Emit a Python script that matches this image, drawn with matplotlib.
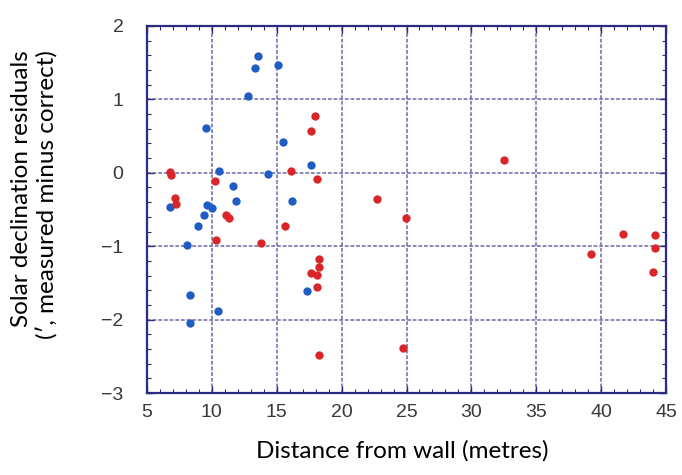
import numpy as np
import matplotlib
matplotlib.use("Agg")
import matplotlib.pyplot as plt
from matplotlib.ticker import MultipleLocator

# points bleus
blue_x = [13.54, 13.31, 15.13, 12.75, 9.54, 15.52, 17.64, 10.54, 14.34, 11.64, 11.87,
          16.18, 6.75, 9.64, 10.0, 9.36, 8.9, 8.1, 17.31, 8.34, 10.46, 8.34]
blue_y = [1.59, 1.43, 1.47, 1.05, 0.61, 0.42, 0.11, 0.03, -0.01, -0.18, -0.38,
          -0.38, -0.47, -0.44, -0.48, -0.58, -0.72, -0.99, -1.61, -1.66, -1.88, -2.04]

# points rouges
red_x = [17.98, 17.64, 6.8, 6.83, 16.08, 18.08, 10.23, 7.13, 7.26, 11.1, 11.3, 15.6,
         10.34, 13.77, 22.72, 24.95, 18.28, 18.28, 17.64, 18.08, 18.08, 18.28, 24.75,
         32.52, 41.67, 44.13, 44.13, 39.23, 44.0]
red_y = [0.78, 0.57, 0.01, -0.03, 0.03, -0.09, -0.11, -0.34, -0.43, -0.58, -0.62, -0.72,
         -0.92, -0.96, -0.36, -0.61, -1.18, -1.29, -1.37, -1.39, -1.55, -2.48, -2.39,
         0.17, -0.84, -0.85, -1.02, -1.10, -1.35]

x_ticks = [5, 10, 15, 20, 25, 30, 35, 40, 45]
y_ticks = [-3, -2, -1, 0, 1, 2]

navy = "#2b2b80"

fig = plt.figure(figsize=(6.82, 4.75), dpi=100)
ax = fig.add_axes([147 / 682, 1 - 393 / 475, (666 - 147) / 682, (393 - 26) / 475])

ax.scatter(blue_x, blue_y, s=36, color="#1f5cc4", zorder=3, linewidths=0)
ax.scatter(red_x, red_y, s=36, color="#d9262b", zorder=3, linewidths=0)

ax.set_xlim(5, 45)
ax.set_ylim(-3, 2)
ax.set_xticks(x_ticks)
ax.set_yticks(y_ticks)
ax.xaxis.set_minor_locator(MultipleLocator(1))
ax.yaxis.set_minor_locator(MultipleLocator(0.2))

ax.grid(True, which="major", color="#6a6aa0", linestyle=(0, (2.5, 1.2)), linewidth=1.1)
ax.tick_params(which="both", direction="in", top=True, right=True, color=navy)
ax.tick_params(which="major", length=5, width=1)
ax.tick_params(which="minor", length=3, width=0.8)
ax.tick_params(axis="y", pad=17)
ax.tick_params(axis="x", pad=8)
for lab in ax.get_xticklabels() + ax.get_yticklabels():
    lab.set_fontfamily("Liberation Sans")
    lab.set_fontsize(14)
    lab.set_color("#383838")
for sp in ax.spines.values():
    sp.set_color(navy)
    sp.set_linewidth(1.6)

fig.text(402 / 682, 1 - 451 / 475, "Distance from wall (metres)", family="Lato",
         fontsize=17.5, ha="center", va="center", color="black")
fig.text(22 / 682, 1 - 50 / 475, "Solar declination residuals", family="Lato",
         fontsize=17.5, rotation=90, ha="center", va="top", color="black")
fig.text(47 / 682, 1 - 50 / 475, "(\u2032, measured minus correct)", family="Lato",
         fontsize=17.5, rotation=90, ha="center", va="top", color="black")

fig.savefig("out.png", dpi=100)
